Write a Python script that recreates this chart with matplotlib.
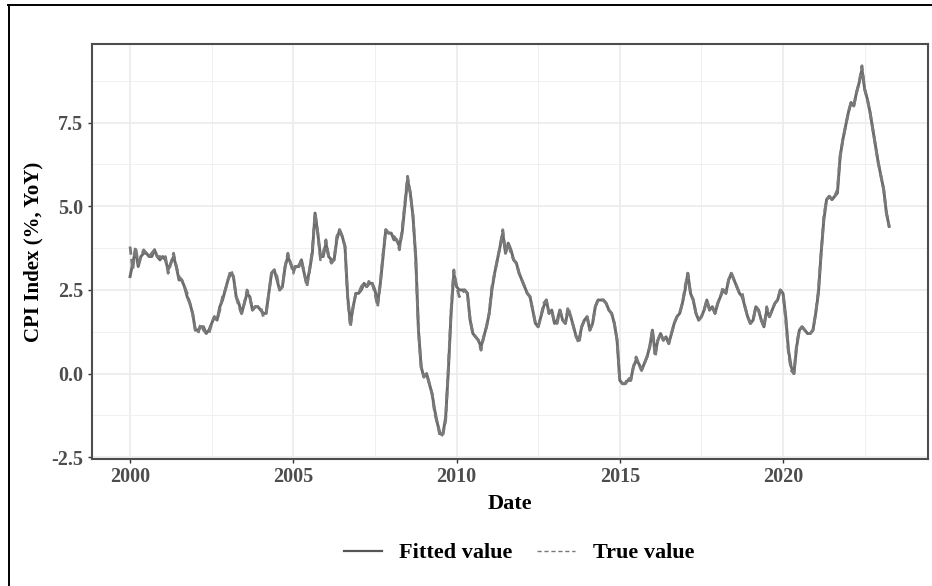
import pandas as pd
import matplotlib
matplotlib.use("Agg")
import matplotlib.pyplot as plt
from matplotlib.lines import Line2D
from matplotlib.ticker import MultipleLocator

# monthly CPI, year over year %, Jan 2000 - Apr 2023
true_value = [
    3.8, 3.1, 3.8, 3.3, 3.5, 3.7, 3.6, 3.5, 3.6, 3.7, 3.5, 3.5,
    3.4, 3.5, 3.0, 3.3, 3.6, 3.2, 2.9, 2.8, 2.6, 2.4, 2.1, 1.8,
    1.3, 1.2, 1.5, 1.3, 1.2, 1.2, 1.5, 1.7, 1.6, 1.9, 2.3, 2.5,
    2.8, 3.1, 2.9, 2.3, 2.0, 1.8, 2.1, 2.5, 2.3, 1.9, 2.0, 2.0,
    2.0, 1.7, 1.8, 2.4, 3.0, 3.1, 2.9, 2.5, 2.6, 3.2, 3.6, 3.3,
    3.0, 3.3, 3.2, 3.4, 3.0, 2.6, 3.1, 3.7, 4.8, 4.2, 3.4, 3.6,
    4.0, 3.5, 3.3, 3.4, 4.1, 4.3, 4.1, 3.8, 2.2, 1.4, 2.0, 2.4,
    2.4, 2.6, 2.7, 2.6, 2.8, 2.7, 2.4, 2.0, 2.7, 3.6, 4.3, 4.2,
    4.2, 4.1, 4.0, 3.7, 4.3, 5.1, 5.9, 5.4, 4.7, 3.4, 1.3, 0.2,
    -0.1, 0.0, -0.3, -0.6, -1.2, -1.5, -1.9, -1.8, -1.4, 0.2, 1.9, 3.1,
    2.6, 2.3, 2.4, 2.5, 2.4, 1.6, 1.2, 1.1, 1.0, 0.7, 1.1, 1.4,
    1.8, 2.6, 3.0, 3.4, 3.8, 4.3, 3.6, 3.9, 3.6, 3.4, 3.3, 3.0,
    2.8, 2.6, 2.4, 2.3, 1.9, 1.5, 1.4, 1.7, 2.1, 2.2, 1.8, 1.9,
    1.5, 1.5, 1.9, 1.6, 1.5, 2.0, 1.7, 1.4, 1.1, 0.9, 1.4, 1.6,
    1.7, 1.3, 1.5, 2.0, 2.2, 2.2, 2.2, 2.1, 1.9, 1.8, 1.5, 1.0,
    -0.2, -0.3, -0.3, -0.1, -0.2, 0.2, 0.5, 0.3, 0.1, 0.3, 0.5, 0.8,
    1.3, 0.5, 1.0, 1.2, 1.0, 1.1, 0.9, 1.2, 1.5, 1.7, 1.8, 2.1,
    2.6, 3.0, 2.4, 2.2, 1.8, 1.6, 1.7, 1.9, 2.2, 1.9, 2.0, 1.8,
    2.1, 2.3, 2.6, 2.4, 2.8, 3.0, 2.8, 2.6, 2.4, 2.4, 2.0, 1.7,
    1.5, 1.6, 2.0, 1.9, 1.6, 1.4, 2.0, 1.7, 1.9, 2.1, 2.2, 2.5,
    2.4, 1.6, 0.6, 0.1, 0.0, 0.9, 1.3, 1.4, 1.3, 1.2, 1.2, 1.3,
    1.8, 2.5, 3.6, 4.7, 5.2, 5.3, 5.2, 5.3, 5.5, 6.5, 7.0, 7.4,
    7.8, 8.1, 8.0, 8.4, 8.7, 9.2, 8.5, 8.2, 7.8, 7.3, 6.8, 6.3,
    5.9, 5.5, 4.8, 4.4,
]

fitted_value = [
    2.9, 3.3, 3.7, 3.2, 3.5, 3.6, 3.6, 3.5, 3.5, 3.7, 3.5, 3.4,
    3.5, 3.4, 3.1, 3.3, 3.5, 3.2, 2.8, 2.8, 2.6, 2.3, 2.1, 1.8,
    1.3, 1.3, 1.4, 1.4, 1.2, 1.3, 1.5, 1.7, 1.6, 2.0, 2.2, 2.5,
    2.8, 3.0, 2.9, 2.3, 2.1, 1.8, 2.1, 2.4, 2.3, 1.9, 2.0, 2.0,
    1.9, 1.8, 1.8, 2.4, 3.0, 3.1, 2.8, 2.5, 2.6, 3.2, 3.5, 3.3,
    3.1, 3.2, 3.2, 3.4, 3.0, 2.7, 3.1, 3.6, 4.8, 4.2, 3.5, 3.5,
    3.9, 3.5, 3.4, 3.4, 4.0, 4.3, 4.1, 3.8, 2.3, 1.5, 2.0, 2.4,
    2.4, 2.5, 2.7, 2.6, 2.7, 2.7, 2.5, 2.1, 2.7, 3.5, 4.3, 4.2,
    4.2, 4.0, 4.0, 3.8, 4.2, 5.0, 5.8, 5.4, 4.7, 3.5, 1.3, 0.2,
    -0.1, 0.0, -0.3, -0.6, -1.1, -1.5, -1.8, -1.8, -1.3, 0.1, 1.8, 3.0,
    2.6, 2.5, 2.5, 2.5, 2.4, 1.6, 1.2, 1.1, 1.0, 0.8, 1.1, 1.4,
    1.8, 2.5, 3.0, 3.4, 3.8, 4.2, 3.6, 3.9, 3.7, 3.4, 3.3, 3.0,
    2.8, 2.6, 2.4, 2.3, 1.9, 1.5, 1.4, 1.7, 2.0, 2.2, 1.8, 1.9,
    1.5, 1.6, 1.9, 1.6, 1.5, 1.9, 1.7, 1.4, 1.1, 1.0, 1.4, 1.6,
    1.7, 1.3, 1.5, 2.0, 2.2, 2.2, 2.2, 2.1, 1.9, 1.8, 1.5, 1.0,
    -0.2, -0.3, -0.3, -0.2, -0.2, 0.2, 0.4, 0.3, 0.1, 0.3, 0.5, 0.8,
    1.3, 0.6, 1.0, 1.2, 1.0, 1.1, 0.9, 1.2, 1.5, 1.7, 1.8, 2.1,
    2.5, 3.0, 2.4, 2.2, 1.8, 1.6, 1.7, 1.9, 2.2, 1.9, 2.0, 1.8,
    2.1, 2.3, 2.5, 2.4, 2.8, 3.0, 2.8, 2.6, 2.4, 2.3, 2.0, 1.7,
    1.5, 1.6, 2.0, 1.9, 1.6, 1.4, 1.9, 1.7, 1.9, 2.1, 2.2, 2.5,
    2.4, 1.7, 0.7, 0.2, 0.0, 0.8, 1.3, 1.4, 1.3, 1.2, 1.2, 1.3,
    1.8, 2.4, 3.6, 4.6, 5.2, 5.3, 5.2, 5.3, 5.4, 6.5, 7.0, 7.4,
    7.8, 8.1, 8.0, 8.4, 8.7, 9.1, 8.5, 8.2, 7.8, 7.3, 6.8, 6.3,
    5.9, 5.5, 4.8, 4.4,
]

year_ticks = [2000, 2005, 2010, 2015, 2020]
cpi_ticks = [-2.5, 0.0, 2.5, 5.0, 7.5]
series_labels = ["Fitted value", "True value"]

dates = pd.date_range("2000-01-01", periods=len(true_value), freq="MS")
date_num = dates.year + (dates.month - 1) / 12.0

plt.rcParams["font.family"] = ["Liberation Serif", "DejaVu Serif"]
plt.rcParams["font.weight"] = "bold"

W, H = 932, 586
fig = plt.figure(figsize=(W / 100, H / 100), dpi=100)
ax = fig.add_axes([92 / W, (H - 458.5) / H, 836 / W, 414.5 / H])

ax.plot(date_num, fitted_value, color="#6b6b6b", lw=2.1, zorder=3)
ax.plot(date_num, true_value, color="#7a7a7a", lw=2.0, ls=(0, (3, 1.5)), zorder=4)

ax.set_xlim(1998.835, 2024.44)
ax.set_ylim(-2.535, 9.85)
ax.set_xticks(year_ticks)
ax.set_yticks(cpi_ticks)
ax.set_xticklabels([str(y) for y in year_ticks])
ax.set_yticklabels(["%.1f" % v for v in cpi_ticks])
ax.xaxis.set_minor_locator(MultipleLocator(2.5))
ax.yaxis.set_minor_locator(MultipleLocator(1.25))

ax.grid(which="major", color="#ebebeb", lw=1.2, zorder=0)
ax.grid(which="minor", color="#f0f0f0", lw=0.7, zorder=0)
ax.set_axisbelow(True)

for sp in ax.spines.values():
    sp.set_color("#4d4d4d")
    sp.set_linewidth(1.5)

ax.tick_params(which="major", length=3.2, width=1.0, color="#333333",
               labelcolor="#4d4d4d", labelsize=14.5)
ax.tick_params(axis="x", pad=3)
ax.tick_params(axis="y", pad=3)
ax.tick_params(which="minor", length=0)

fig.text(33 / W, 1 - 252 / H, "CPI Index (%, YoY)", rotation=90,
         ha="center", va="center", fontsize=15, fontweight="bold", color="black")
fig.text(510 / W, 1 - 504 / H, "Date", ha="center", va="center",
         fontsize=16, fontweight="bold", color="black")

handles = [
    Line2D([], [], color="#555555", lw=1.6),
    Line2D([], [], color="#777777", lw=1.0, ls=(0, (3, 2))),
]
fig.legend(handles, series_labels, loc="center", bbox_to_anchor=(519 / W, 1 - 553 / H),
           ncol=2, frameon=False, handlelength=1.7, handletextpad=0.8,
           columnspacing=1.1, prop={"weight": "bold", "size": 16})

# outer frame
fig.add_artist(Line2D([8.5 / W, 8.5 / W], [0, 1 - 4.5 / H], transform=fig.transFigure,
                      color="black", lw=1.4))
fig.add_artist(Line2D([8 / W, 1], [1 - 4.5 / H, 1 - 4.5 / H], transform=fig.transFigure,
                      color="black", lw=1.4))

fig.savefig("out.png", dpi=100)
